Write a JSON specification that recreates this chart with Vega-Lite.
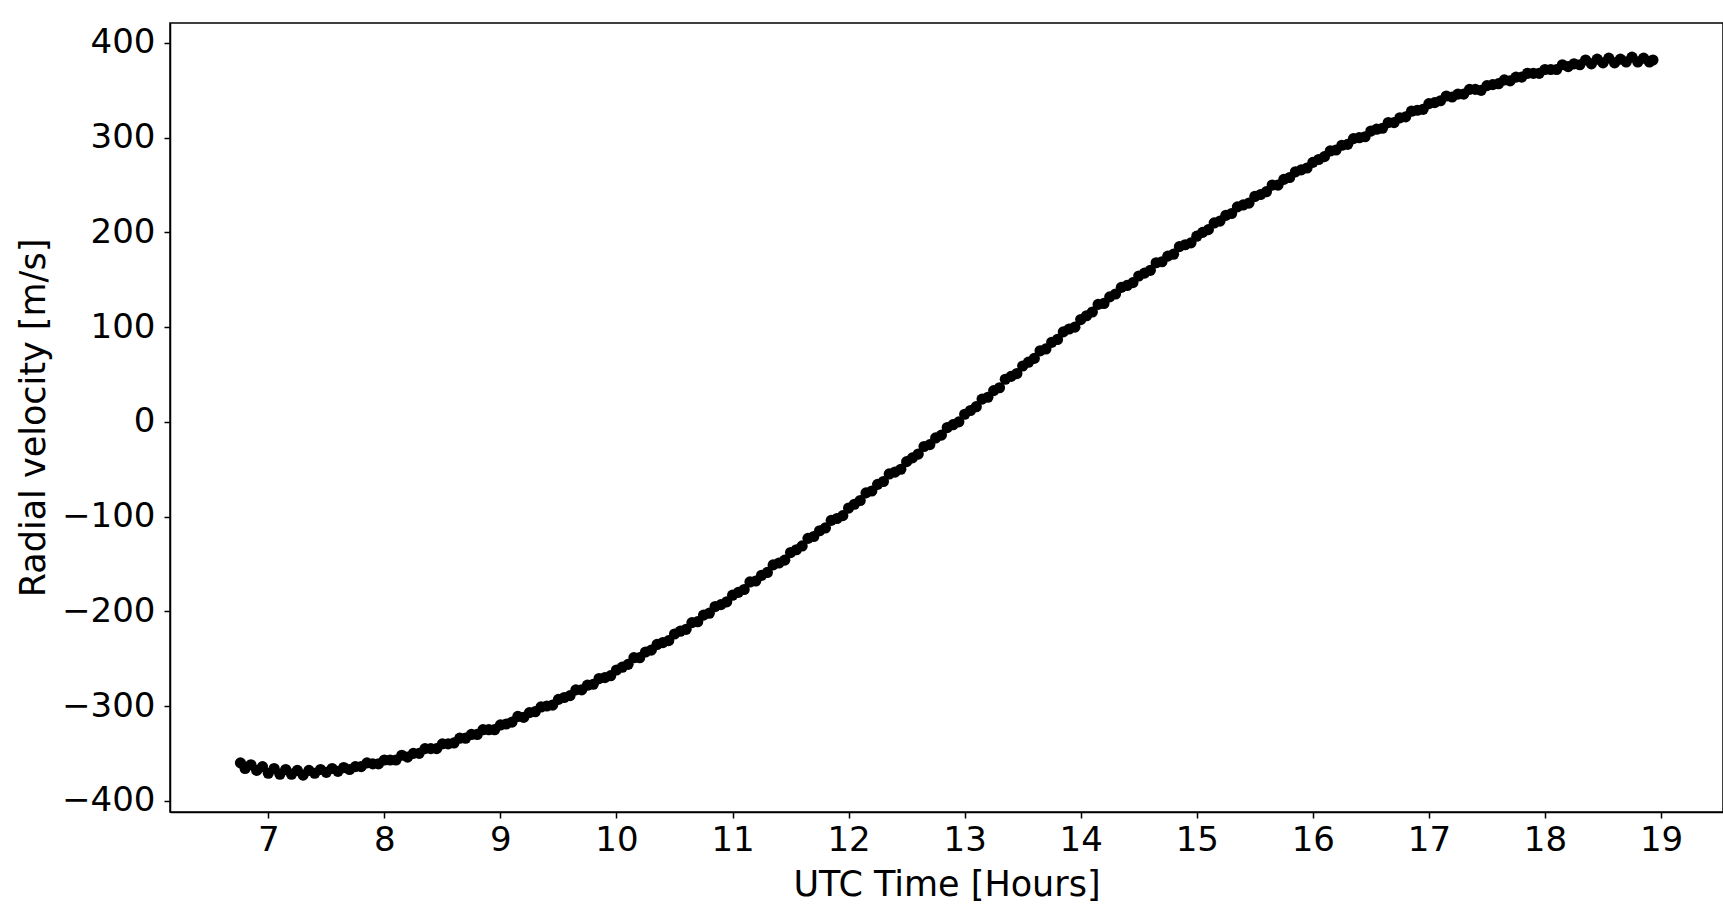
{
  "$schema": "https://vega.github.io/schema/vega-lite/v6.json",
  "autosize": {"type": "none"},
  "padding": {"left": 170, "top": 23, "right": 0, "bottom": 95},
  "width": 1553,
  "height": 789,
  "background": "white",
  "config": {
    "view": {"stroke": "black", "strokeWidth": 1.5},
    "font": "DejaVu Sans",
    "axis": {
      "grid": false,
      "domainColor": "black",
      "domainWidth": 1.5,
      "tickColor": "black",
      "tickWidth": 1.5,
      "tickSize": 6,
      "labelFont": "DejaVu Sans",
      "labelFontSize": 34,
      "labelColor": "black",
      "titleFont": "DejaVu Sans",
      "titleFontSize": 35,
      "titleFontWeight": "normal",
      "titleColor": "black"
    }
  },
  "data": {
    "values": [
      {"t":6.76,"v":-360},{"t":6.80,"v":-366},{"t":6.85,"v":-362},{"t":6.90,"v":-368},{"t":6.95,"v":-364},
      {"t":7.00,"v":-371},{"t":7.05,"v":-366},{"t":7.10,"v":-372},{"t":7.15,"v":-367},{"t":7.20,"v":-372},
      {"t":7.25,"v":-368},{"t":7.30,"v":-373},{"t":7.35,"v":-368},{"t":7.40,"v":-371},{"t":7.45,"v":-367},
      {"t":7.50,"v":-370},{"t":7.55,"v":-366},{"t":7.60,"v":-369},{"t":7.65,"v":-365},{"t":7.70,"v":-367},
      {"t":7.75,"v":-364},{"t":7.80,"v":-364},{"t":7.85,"v":-360},{"t":7.90,"v":-361},{"t":7.95,"v":-361},
      {"t":8.00,"v":-357},{"t":8.05,"v":-357},{"t":8.10,"v":-357},{"t":8.15,"v":-352},{"t":8.20,"v":-354},
      {"t":8.25,"v":-350},{"t":8.30,"v":-350},{"t":8.35,"v":-345},{"t":8.40,"v":-345},{"t":8.45,"v":-345},
      {"t":8.50,"v":-340},{"t":8.55,"v":-340},{"t":8.60,"v":-339},{"t":8.65,"v":-334},{"t":8.70,"v":-334},
      {"t":8.75,"v":-330},{"t":8.80,"v":-330},{"t":8.85,"v":-325},{"t":8.90,"v":-325},{"t":8.95,"v":-325},
      {"t":9.00,"v":-320},{"t":9.05,"v":-319},{"t":9.10,"v":-317},{"t":9.15,"v":-311},{"t":9.20,"v":-312},
      {"t":9.25,"v":-307},{"t":9.30,"v":-306},{"t":9.35,"v":-301},{"t":9.40,"v":-300},{"t":9.45,"v":-299},
      {"t":9.50,"v":-293},{"t":9.55,"v":-291},{"t":9.60,"v":-289},{"t":9.65,"v":-283},{"t":9.70,"v":-283},
      {"t":9.75,"v":-278},{"t":9.80,"v":-277},{"t":9.85,"v":-271},{"t":9.90,"v":-270},{"t":9.95,"v":-268},
      {"t":10.00,"v":-262},{"t":10.05,"v":-259},{"t":10.10,"v":-256},{"t":10.15,"v":-249},{"t":10.20,"v":-249},
      {"t":10.25,"v":-243},{"t":10.30,"v":-241},{"t":10.35,"v":-235},{"t":10.40,"v":-233},{"t":10.45,"v":-231},
      {"t":10.50,"v":-224},{"t":10.55,"v":-221},{"t":10.60,"v":-219},{"t":10.65,"v":-212},{"t":10.70,"v":-211},
      {"t":10.75,"v":-204},{"t":10.80,"v":-202},{"t":10.85,"v":-195},{"t":10.90,"v":-193},{"t":10.95,"v":-190},
      {"t":11.00,"v":-183},{"t":11.05,"v":-180},{"t":11.10,"v":-177},{"t":11.15,"v":-169},{"t":11.20,"v":-168},
      {"t":11.25,"v":-162},{"t":11.30,"v":-159},{"t":11.35,"v":-151},{"t":11.40,"v":-149},{"t":11.45,"v":-146},
      {"t":11.50,"v":-138},{"t":11.55,"v":-135},{"t":11.60,"v":-131},{"t":11.65,"v":-123},{"t":11.70,"v":-121},
      {"t":11.75,"v":-115},{"t":11.80,"v":-112},{"t":11.85,"v":-104},{"t":11.90,"v":-102},{"t":11.95,"v":-99},
      {"t":12.00,"v":-91},{"t":12.05,"v":-87},{"t":12.10,"v":-83},{"t":12.15,"v":-75},{"t":12.20,"v":-73},
      {"t":12.25,"v":-66},{"t":12.30,"v":-63},{"t":12.35,"v":-55},{"t":12.40,"v":-53},{"t":12.45,"v":-50},
      {"t":12.50,"v":-42},{"t":12.55,"v":-38},{"t":12.60,"v":-34},{"t":12.65,"v":-26},{"t":12.70,"v":-24},
      {"t":12.75,"v":-17},{"t":12.80,"v":-14},{"t":12.85,"v":-6},{"t":12.90,"v":-3},{"t":12.95,"v":0},
      {"t":13.00,"v":8},{"t":13.05,"v":12},{"t":13.10,"v":16},{"t":13.15,"v":24},{"t":13.20,"v":26},
      {"t":13.25,"v":33},{"t":13.30,"v":36},{"t":13.35,"v":45},{"t":13.40,"v":48},{"t":13.45,"v":51},
      {"t":13.50,"v":59},{"t":13.55,"v":63},{"t":13.60,"v":67},{"t":13.65,"v":75},{"t":13.70,"v":77},
      {"t":13.75,"v":84},{"t":13.80,"v":87},{"t":13.85,"v":95},{"t":13.90,"v":98},{"t":13.95,"v":100},
      {"t":14.00,"v":108},{"t":14.05,"v":112},{"t":14.10,"v":116},{"t":14.15,"v":124},{"t":14.20,"v":125},
      {"t":14.25,"v":132},{"t":14.30,"v":135},{"t":14.35,"v":142},{"t":14.40,"v":144},{"t":14.45,"v":147},
      {"t":14.50,"v":154},{"t":14.55,"v":157},{"t":14.60,"v":160},{"t":14.65,"v":168},{"t":14.70,"v":169},
      {"t":14.75,"v":175},{"t":14.80,"v":177},{"t":14.85,"v":185},{"t":14.90,"v":187},{"t":14.95,"v":189},
      {"t":15.00,"v":196},{"t":15.05,"v":200},{"t":15.10,"v":203},{"t":15.15,"v":210},{"t":15.20,"v":212},
      {"t":15.25,"v":218},{"t":15.30,"v":220},{"t":15.35,"v":227},{"t":15.40,"v":229},{"t":15.45,"v":231},
      {"t":15.50,"v":238},{"t":15.55,"v":240},{"t":15.60,"v":243},{"t":15.65,"v":250},{"t":15.70,"v":250},
      {"t":15.75,"v":256},{"t":15.80,"v":258},{"t":15.85,"v":264},{"t":15.90,"v":266},{"t":15.95,"v":268},
      {"t":16.00,"v":274},{"t":16.05,"v":277},{"t":16.10,"v":280},{"t":16.15,"v":286},{"t":16.20,"v":287},
      {"t":16.25,"v":292},{"t":16.30,"v":293},{"t":16.35,"v":299},{"t":16.40,"v":300},{"t":16.45,"v":301},
      {"t":16.50,"v":307},{"t":16.55,"v":309},{"t":16.60,"v":310},{"t":16.65,"v":316},{"t":16.70,"v":316},
      {"t":16.75,"v":321},{"t":16.80,"v":322},{"t":16.85,"v":328},{"t":16.90,"v":329},{"t":16.95,"v":330},
      {"t":17.00,"v":336},{"t":17.05,"v":337},{"t":17.10,"v":339},{"t":17.15,"v":344},{"t":17.20,"v":343},
      {"t":17.25,"v":346},{"t":17.30,"v":346},{"t":17.35,"v":351},{"t":17.40,"v":351},{"t":17.45,"v":350},
      {"t":17.50,"v":355},{"t":17.55,"v":356},{"t":17.60,"v":357},{"t":17.65,"v":361},{"t":17.70,"v":360},
      {"t":17.75,"v":364},{"t":17.80,"v":364},{"t":17.85,"v":368},{"t":17.90,"v":368},{"t":17.95,"v":368},
      {"t":18.00,"v":372},{"t":18.05,"v":372},{"t":18.10,"v":372},{"t":18.15,"v":377},{"t":18.20,"v":375},
      {"t":18.25,"v":378},{"t":18.30,"v":377},{"t":18.35,"v":382},{"t":18.40,"v":378},{"t":18.45,"v":383},
      {"t":18.50,"v":379},{"t":18.55,"v":384},{"t":18.60,"v":379},{"t":18.65,"v":383},{"t":18.70,"v":380},
      {"t":18.75,"v":385},{"t":18.80,"v":380},{"t":18.85,"v":384},{"t":18.90,"v":380},{"t":18.93,"v":382}
    ]
  },
  "mark": {"type": "circle", "color": "black", "opacity": 1, "size": 125},
  "encoding": {
    "x": {
      "field": "t",
      "type": "quantitative",
      "scale": {"domain": [6.153, 19.534], "nice": false, "zero": false},
      "axis": {
        "values": [7, 8, 9, 10, 11, 12, 13, 14, 15, 16, 17, 18, 19],
        "format": "d",
        "labelPadding": 5,
        "title": "UTC Time [Hours]",
        "titleBaseline": "alphabetic",
        "titleY": 83
      }
    },
    "y": {
      "field": "v",
      "type": "quantitative",
      "scale": {"domain": [-411.9, 421.1], "nice": false, "zero": false},
      "axis": {
        "values": [-400, -300, -200, -100, 0, 100, 200, 300, 400],
        "format": "d",
        "labelPadding": 9,
        "title": "Radial velocity [m/s]",
        "titleBaseline": "alphabetic",
        "titleAngle": 270,
        "titleX": -126,
        "titleY": 394.5
      }
    }
  }
}
